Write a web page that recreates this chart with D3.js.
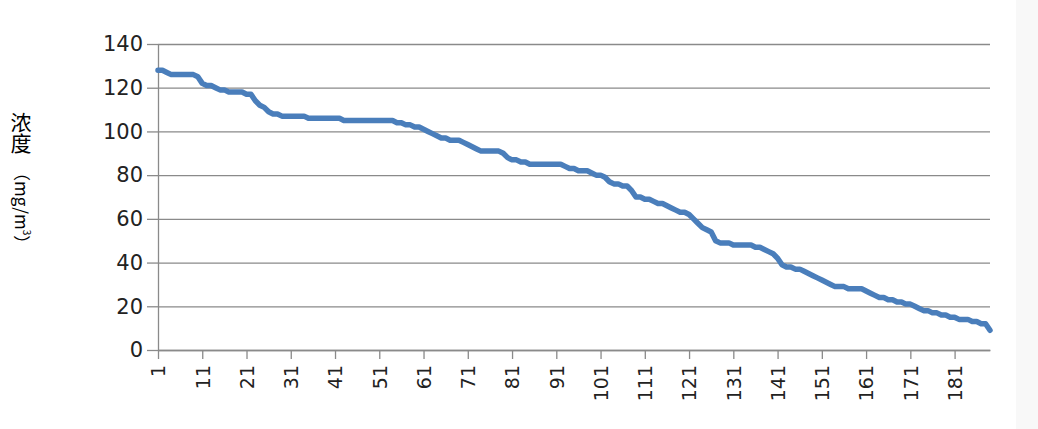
<!DOCTYPE html>
<html>
<head>
<meta charset="utf-8">
<script src="https://cdn.jsdelivr.net/npm/d3@7"></script>
<style>
  body { margin: 0; background: #fff; }
  svg { display: block; }
</style>
</head>
<body>
<svg width="1038" height="429"></svg>
<script>
// concentration per sample, sorted high to low
var values = [
    128, 128, 127, 126, 126, 126, 126, 126, 126, 125,
    122, 121, 121, 120, 119, 119, 118, 118, 118, 118,
    117, 117, 114, 112, 111, 109, 108, 108, 107, 107,
    107, 107, 107, 107, 106, 106, 106, 106, 106, 106,
    106, 106, 105, 105, 105, 105, 105, 105, 105, 105,
    105, 105, 105, 105, 104, 104, 103, 103, 102, 102,
    101, 100, 99, 98, 97, 97, 96, 96, 96, 95,
    94, 93, 92, 91, 91, 91, 91, 91, 90, 88,
    87, 87, 86, 86, 85, 85, 85, 85, 85, 85,
    85, 85, 84, 83, 83, 82, 82, 82, 81, 80,
    80, 79, 77, 76, 76, 75, 75, 73, 70, 70,
    69, 69, 68, 67, 67, 66, 65, 64, 63, 63,
    62, 60, 58, 56, 55, 54, 50, 49, 49, 49,
    48, 48, 48, 48, 48, 47, 47, 46, 45, 44,
    42, 39, 38, 38, 37, 37, 36, 35, 34, 33,
    32, 31, 30, 29, 29, 29, 28, 28, 28, 28,
    27, 26, 25, 24, 24, 23, 23, 22, 22, 21,
    21, 20, 19, 18, 18, 17, 17, 16, 16, 15,
    15, 14, 14, 14, 13, 13, 12, 12, 9
]
var xTicks = [1, 11, 21, 31, 41, 51, 61, 71, 81, 91, 101, 111, 121, 131, 141, 151, 161, 171, 181]
var yTicks = [0, 20, 40, 60, 80, 100, 120, 140]
var titleMain = '浓度'
var titleUnit = '（mg/m'
var titleSup = '3'
var titleEnd = '）'

var data = values.map((v, i) => ({ idx: i + 1, v: v }))

var svg = d3.select('svg'),
    plotLeft = 158,
    plotRight = 990,
    plotTop = 44,
    plotBottom = 350

var xScale = d3.scaleLinear()
    .domain([1, values.length])
    .range([plotLeft, plotRight])
var yScale = d3.scaleLinear()
    .domain([0, 140])
    .range([plotBottom, plotTop])

// faint strip on the right edge, like the screenshot
svg.append('rect')
    .attr('x', 1016).attr('y', 0).attr('width', 22).attr('height', 429)
    .style('fill', '#f8f8f8')

//gridlines
svg.append('g')
    .attr('transform', 'translate(' + plotLeft + ',0)')
    .call(d3.axisLeft(yScale).tickValues(yTicks).tickSize(-(plotRight - plotLeft)).tickFormat(''))
    .call(g => g.select('.domain').remove())
    .call(g => g.selectAll('line').style('stroke', '#8a8a8a').style('stroke-width', 1.3))

//y axis
var yAxis = svg.append('g')
    .attr('transform', 'translate(' + plotLeft + ',0)')
    .call(d3.axisLeft(yScale).tickValues(yTicks).tickSizeInner(11).tickSizeOuter(0).tickPadding(4))
yAxis.select('.domain').style('stroke', '#8a8a8a').style('stroke-width', 1.3)
yAxis.selectAll('line').style('stroke', '#8a8a8a').style('stroke-width', 1.3)
yAxis.selectAll('text')
    .style('font-family', 'DejaVu Sans, sans-serif')
    .style('font-size', '21px')
    .style('fill', '#222')

//x axis
var xAxis = svg.append('g')
    .attr('transform', 'translate(0,' + plotBottom + ')')
    .call(d3.axisBottom(xScale).tickValues(xTicks).tickSizeInner(9).tickSizeOuter(0))
xAxis.select('.domain').style('stroke', '#8a8a8a').style('stroke-width', 1.3)
xAxis.selectAll('line').style('stroke', '#8a8a8a').style('stroke-width', 1.3)
xAxis.selectAll('text')
    .attr('transform', 'rotate(-90)')
    .attr('x', -15)
    .attr('y', 0)
    .attr('dy', '0.36em')
    .attr('text-anchor', 'end')
    .style('font-family', 'DejaVu Sans, sans-serif')
    .style('font-size', '19px')
    .style('fill', '#222')

//the line
var line = d3.line()
    .x(d => xScale(d.idx))
    .y(d => yScale(d.v))
svg.append('path')
    .datum(data)
    .attr('d', line)
    .style('fill', 'none')
    .style('stroke', '#4a7ebb')
    .style('stroke-width', 5.5)
    .style('stroke-linejoin', 'round')
    .style('stroke-linecap', 'round')

//y axis title, stacked vertically
svg.append('text')
    .attr('x', 21)
    .attr('y', 112)
    .style('writing-mode', 'vertical-rl')
    .style('font-family', 'Noto Sans CJK SC, sans-serif')
    .style('font-size', '21px')
    .style('fill', '#000')
    .text(titleMain)

var unit = svg.append('text')
    .attr('transform', 'translate(15,164)rotate(90)')
    .style('font-family', 'Noto Sans CJK SC, sans-serif')
    .style('font-size', '17px')
    .style('fill', '#000')
unit.append('tspan').text(titleUnit)
unit.append('tspan')
    .attr('dy', -8)
    .style('font-size', '10px')
    .text(titleSup)
unit.append('tspan')
    .attr('dy', 8)
    .text(titleEnd)
</script>
</body>
</html>
